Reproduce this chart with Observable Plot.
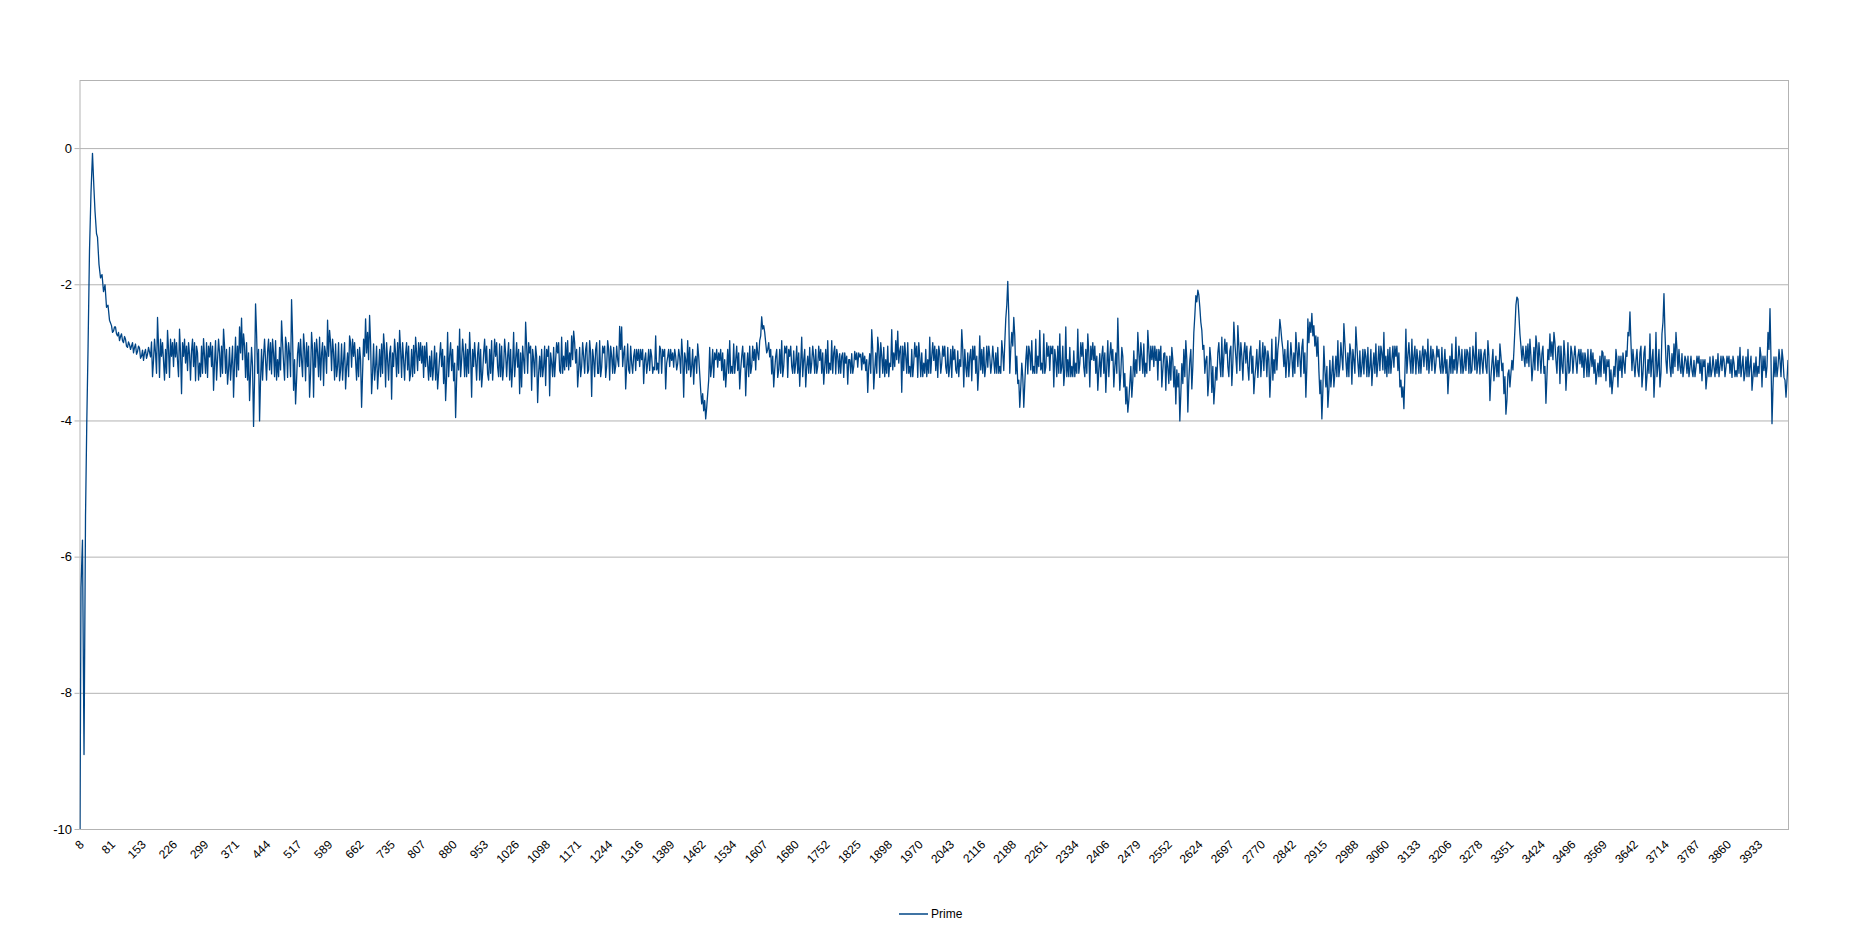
<!DOCTYPE html>
<html>
<head>
<meta charset="utf-8">
<script src="https://cdn.jsdelivr.net/npm/d3@7"></script>
<script src="https://cdn.jsdelivr.net/npm/@observablehq/plot@0.6"></script>
<style>
  body { margin: 0; background: #ffffff; font-family: "Liberation Sans", Arial, sans-serif; }
  #wrap { position: relative; width: 1861px; height: 933px; overflow: hidden; }
  #legend { position: absolute; left: 899px; top: 907px; display: flex; align-items: center; font-size: 12px; color: #000; }
  #legend .swatch { width: 29px; height: 2px; background: #004586; opacity: 0.75; margin-right: 3px; }
</style>
</head>
<body>
<div id="wrap"><div id="legend"><span class="swatch"></span><span>Prime</span></div></div>
<script>
// ---- tick labels ----
const xTickLabels = [8,81,153,226,299,371,444,517,589,662,735,807,880,953,1026,1098,1171,1244,1316,1389,1462,1534,1607,1680,1752,1825,1898,1970,2043,2116,2188,2261,2334,2406,2479,2552,2624,2697,2770,2842,2915,2988,3060,3133,3206,3278,3351,3424,3496,3569,3642,3714,3787,3860,3933];
const yTicks = [0,-2,-4,-6,-8,-10];
const seriesName = "Prime";

// ---- opening part of the series (category positions) ----
const headX = [8,10.3,13.8,17.4,20.9,23.9,26.9,30.2,33.7,37.2,40.7,43.1,46.6,48.9,52.4,56,59.5,63,66.5,70,73.5,77];
const headY = [-10,-6.45,-5.75,-8.9,-5.4,-4.0,-2.9,-1.5,-0.65,-0.07,-0.6,-0.92,-1.25,-1.3,-1.7,-1.9,-1.85,-2.1,-2.0,-2.33,-2.3,-2.52];

// ---- rest of the series: values on evenly spaced categories ----
const tailStart = 81.68;
const tailStep = 4.678;
const tailA = [-2.60,-2.68,-2.62,-2.75,-2.82,-2.72,-2.85,-2.80,-2.92,-2.88,
-2.90,-3.00,-2.87,-2.98,-2.93,-3.05,-3.11,-2.95,-3.02,-2.99,
-2.84,-3.11,-3.00,-2.48,-3.36,-3.05,-3.12,-2.95,-2.67,-3.36,
-3.05,-3.20,-3.06,-3.12,-2.65,-3.60,-3.05,-3.15,-3.26,-3.02,
-2.97,-3.20,-3.41,-3.00,-3.15,-2.90,-2.79,-3.30,-3.36,-3.06,
-3.20,-3.55,-2.82,-3.10,-3.00,-2.90,-2.65,-3.30,-3.46,-2.92,
-3.15,-3.65,-2.77,-2.90,-2.62,-2.49,-2.72,-3.36,-3.40,-3.70,
-2.92,-4.08,-2.28,-3.30,-4.00,-2.95,-3.05,-3.11,-2.98,-3.25,
-3.31,-3.00,-2.82,-3.10,-2.92,-2.53,-3.15,-2.77,-3.36,-3.01,
-2.22,-3.55,-3.75,-3.01,-3.20];
const tailB = [-3.11,-2.72,-3.41,-3.20,-3.65,-2.70,-3.65,-3.21,-3.00,-2.77,
-3.01,-3.48,-3.00,-2.52,-2.67,-3.26,-3.00,-2.87,-3.20,-3.41,
-2.87,-3.10,-3.53,-3.00,-2.75,-3.21,-3.05,-3.11,-2.95,-2.92,
-3.80,-2.80,-2.50,-2.70,-2.45,-3.60,-2.87,-3.20,-3.53,-2.95,
-2.87,-2.72,-3.50,-3.10,-3.01,-3.68,-3.20,-3.01,-2.85,-2.67,
-3.36,-3.10,-3.01,-3.25,-3.41,-2.95,-2.89,-2.77,-3.26,-3.11,
-3.15,-3.36,-3.20,-3.16,-3.05,-2.97,-3.21,-3.40,-3.53,-3.06,
-3.20,-3.45,-3.70,-2.70,-3.05,-3.26,-3.41,-3.95,-2.90,-2.65,
-3.11,-3.00,-2.87,-2.95,-2.70,-3.65,-3.20,-3.11,-3.01,-3.40,
-3.50,-3.01,-3.15,-3.31,-2.95,-2.82,-3.11,-3.05,-3.21,-2.87,
-2.90,-3.21,-3.01,-3.05,-3.40,-3.50,-2.70,-3.10,-3.21,-3.60];
const tailC = [-3.50,-3.10,-2.55,-3.30,-3.00,-3.55,-3.10,-2.90,-3.73,-3.05,
-2.95,-3.20,-3.48,-3.05,-3.63,-3.15,-2.92,-3.10,-3.00,-3.26,
-2.77,-3.05,-2.85,-2.82,-3.00,-2.75,-2.68,-3.15,-3.50,-2.92,
-3.20,-3.05,-2.95,-3.30,-2.82,-3.64,-3.10,-2.95,-3.30,-2.82,
-3.21,-3.00,-3.36,-2.82,-3.40,-3.05,-2.92,-3.20,-3.10,-2.61,
-2.62,-3.00,-3.53,-2.87,-3.30,-3.15,-3.05,-3.26,-3.11,-3.20,
-3.10,-3.45,-3.00,-3.15,-3.26,-3.05,-3.21,-2.75,-3.15,-2.90,
-3.30,-3.05,-3.53,-3.06,-3.20,-3.11,-3.21,-3.05,-3.16,-3.06,
-2.80,-3.65,-3.10,-2.82,-2.92,-3.20,-3.46,-3.05,-2.87,-3.30,
-3.75,-3.85,-3.97,-3.60,-2.92,-3.20,-3.36,-3.10,-3.21,-3.11,
-3.26,-3.40,-3.50,-2.95,-2.82,-3.20,-2.87,-3.10,-3.26,-3.53,
-3.05,-3.21,-3.63,-3.00,-2.90,-3.20,-3.11,-3.25,-3.00,-2.82,
-2.47,-2.60,-2.85,-2.95,-3.06,-3.31,-3.50,-3.05,-3.36,-2.95,
-2.82,-3.20,-3.00,-3.36,-3.05,-3.20,-2.97,-3.15,-3.30,-3.49,
-2.77,-3.10,-3.50,-3.05,-2.92,-3.15,-3.06,-2.95,-3.20,-3.11,
-3.30,-3.46,-2.95,-2.82,-3.15,-2.82,-3.00,-3.31,-3.05,-3.01];
const tailD = [-3.05,-3.36,-3.15,-3.46,-3.10,-3.01,-3.20,-3.10,-3.21,-3.06,
-3.25,-3.16,-3.26,-3.58,-3.01,-2.66,-3.53,-3.00,-2.77,-3.36,
-3.05,-2.92,-3.10,-2.90,-3.15,-2.66,-3.00,-2.82,-2.68,-2.97,
-3.58,-3.26,-3.05,-2.85,-3.20,-2.95,-3.15,-3.06,-3.36,-3.05,
-3.00,-3.15,-2.95,-3.10,-2.77,-3.05,-3.11,-3.26,-3.36,-3.01,
-3.15,-3.05,-3.21,-2.92,-3.20,-3.36,-3.10,-3.25,-2.97,-3.10,
-2.66,-3.50,-3.20,-3.00,-3.06,-3.41,-3.10,-3.30,-3.55,-2.75,
-2.95,-2.92,-3.20,-3.21,-3.05,-3.15,-3.11,-3.00,-2.92,-3.20,
-2.82,-3.26,-2.50,-1.95,-3.30,-2.70,-2.48,-3.31,-3.45,-3.80,
-3.15,-3.80,-3.11,-3.31,-3.00,-2.82,-3.20,-2.80,-3.05,-2.67,
-3.15,-2.72,-3.21,-3.05,-3.26,-3.01,-3.50,-3.10,-2.90,-2.72,
-3.21,-3.48,-2.62,-3.10,-2.92,-3.20,-2.97,-3.15,-2.65,-3.16,
-3.05,-3.21,-2.95,-2.72,-3.50,-3.10,-3.11,-3.30,-3.55,-3.01,
-3.05,-3.30,-3.58,-2.82,-3.05,-3.11,-3.50,-3.00,-2.49,-3.55,
-2.92,-3.50,-3.75,-3.87,-3.45,-3.65,-2.97,-3.10,-2.70,-3.26,
-3.05,-2.87,-3.15,-2.67,-3.26,-3.10,-3.20,-3.11,-3.40,-3.11];
const tailE = [-3.50,-3.01,-3.55,-3.20,-3.05,-2.92,-3.50,-3.75,-3.50,-4.00,
-3.16,-2.95,-2.82,-3.87,-3.11,-3.53,-2.70,-2.16,-2.08,-2.33,
-2.67,-2.89,-3.11,-3.63,-2.92,-3.58,-3.75,-3.21,-3.00,-3.15,
-2.77,-3.05,-3.01,-3.20,-2.97,-3.48,-2.55,-3.06,-2.60,-3.26,
-3.05,-3.01,-3.15,-3.21,-3.00,-3.30,-3.60,-3.20,-3.36,-2.82,
-3.10,-3.26,-3.00,-2.97,-3.65,-2.80,-3.10,-2.77,-2.95,-2.51,
-2.82,-3.20,-3.36,-2.82,-3.15,-3.06,-3.00,-2.70,-3.20,-3.06,
-2.92,-3.30,-3.65,-2.50,-2.55,-2.42,-2.60,-2.75,-2.77,-3.60,
-3.97,-2.90,-3.50,-3.80,-3.11,-3.30,-3.50,-3.05,-2.82,-3.20,
-3.06,-2.57,-3.11,-3.00,-2.87,-3.46,-3.10,-2.62,-3.15,-2.97,
-3.20,-3.31,-3.05,-2.92,-3.21,-3.48,-3.00,-2.87,-3.15,-3.26,
-3.00,-2.70,-3.05,-2.95,-2.92,-3.10,-3.21,-3.05,-3.26,-3.50,
-3.65,-3.82,-2.65,-3.05,-3.11,-2.80,-3.05,-3.31,-3.10,-2.97,
-3.05,-3.20,-3.00,-2.80,-3.11,-3.26,-3.05,-3.15,-3.06,-3.21,
-2.92,-3.20,-3.30,-3.60,-3.05,-2.87,-3.10,-2.77,-3.15,-3.06,
-2.95,-3.21,-3.26,-3.00,-2.92,-3.26,-3.05,-2.70,-3.15,-3.31];
const tailF = [-3.11,-3.01,-3.21,-2.82,-3.70,-3.15,-3.41,-3.05,-3.11,-2.87,
-3.26,-3.60,-3.90,-3.31,-3.50,-3.11,-2.97,-2.30,-2.21,-2.72,
-3.11,-3.06,-2.90,-2.87,-2.80,-3.41,-2.92,-2.75,-3.26,-3.05,
-3.01,-3.30,-3.74,-2.95,-2.72,-2.84,-2.70,-3.11,-2.92,-3.45,
-3.20,-2.82,-3.55,-2.85,-3.26,-3.00,-3.06,-3.11,-3.05,-3.16,
-3.21,-3.36,-3.10,-2.95,-3.15,-3.20,-3.30,-3.46,-3.15,-3.05,
-2.97,-3.30,-3.41,-3.20,-3.50,-3.60,-3.20,-2.95,-3.50,-3.26,
-3.36,-3.15,-2.97,-2.70,-2.40,-3.26,-3.15,-3.11,-3.26,-3.00,
-3.50,-3.00,-3.55,-3.10,-2.72,-3.11,-3.65,-2.70,-3.20,-3.50,
-2.72,-2.13,-3.11,-2.89,-3.20,-3.01,-2.87,-2.70,-3.26,-3.20,
-3.01,-3.21,-3.11,-3.05,-3.21,-3.26,-3.11,-3.21,-3.15,-3.30,
-3.41,-3.20,-3.53,-3.15,-3.06,-3.26,-3.21,-3.10,-3.01,-3.20,
-3.26,-3.10,-3.21,-3.15,-3.30,-3.36,-3.15,-3.26,-3.05,-2.92,
-3.20,-3.41,-3.06,-2.95,-3.20,-3.55,-3.15,-3.06,-3.20,-2.92,
-3.50,-3.26,-3.36,-2.70,-2.35,-4.04,-3.06,-3.06,-3.20,-3.11,
-2.95,-3.36,-3.65,-3.11];

// ---- values on the categories lying between the ones above ----
const midA = [-2.70,-2.62,-2.72,-2.70,-2.76,-2.82,-2.76,-2.90,-2.84,-2.95,
-2.85,-2.92,-3.02,-2.90,-3.08,-2.96,-3.00,-3.08,-2.92,-3.06,
-3.35,-2.80,-3.30,-2.90,-2.80,-2.85,-3.40,-3.30,-2.95,-2.80,
-2.85,-2.80,-2.85,-3.35,-3.00,-2.85,-2.80,-2.90,-2.85,-3.40,
-2.80,-2.85,-2.90,-3.40,-3.35,-3.30,-3.05,-2.85,-2.90,-2.85,
-2.90,-3.15,-3.40,-2.80,-3.35,-3.30,-2.90,-2.95,-3.25,-3.40,
-2.90,-3.15,-3.35,-3.25,-3.00,-3.10,-2.90,-2.85,-3.00,-3.30,
-3.20,-3.40,-2.70,-2.95,-3.40,-3.40,-2.80,-3.40,-2.80,-2.85,
-2.80,-3.35,-3.40,-3.35,-3.25,-2.85,-3.40,-2.90,-2.85,-3.35,
-2.75,-3.10,-3.40,-2.85,-2.80];
const midB = [-3.35,-2.95,-2.85,-2.90,-3.30,-2.95,-2.85,-2.80,-3.35,-3.40,
-2.85,-2.90,-3.30,-3.05,-2.85,-2.80,-3.40,-3.35,-2.85,-3.25,
-3.40,-2.85,-3.20,-3.35,-2.85,-2.80,-2.85,-3.40,-3.35,-3.10,
-3.30,-3.05,-3.00,-3.10,-2.85,-3.30,-3.40,-2.90,-3.25,-3.35,
-3.30,-2.95,-2.85,-3.40,-2.90,-3.00,-2.80,-3.35,-3.30,-2.95,
-2.85,-3.40,-2.85,-2.90,-3.30,-3.35,-3.30,-3.00,-2.85,-2.85,
-2.90,-2.90,-2.85,-3.40,-3.35,-3.40,-2.90,-3.00,-3.30,-2.85,
-2.95,-3.05,-3.35,-3.35,-2.85,-2.95,-3.15,-3.40,-3.25,-3.35,
-2.80,-3.35,-3.35,-3.30,-3.05,-2.95,-2.85,-3.40,-2.85,-2.95,
-3.30,-2.80,-2.90,-3.40,-3.30,-3.40,-2.80,-2.85,-3.35,-3.35,
-3.40,-2.80,-3.35,-2.85,-2.95,-3.20,-3.35,-2.85,-2.95,-3.00];
const midC = [-2.90,-3.30,-2.90,-2.85,-2.90,-2.95,-3.35,-3.05,-3.30,-3.35,
-3.35,-2.90,-2.95,-2.90,-3.00,-3.35,-3.35,-2.85,-2.85,-3.30,
-3.30,-3.25,-3.20,-3.25,-3.20,-3.10,-2.85,-2.95,-3.25,-3.35,
-2.85,-3.30,-2.85,-3.25,-3.00,-2.95,-3.35,-2.85,-3.30,-3.35,
-2.90,-2.90,-3.20,-2.95,-2.90,-3.30,-3.30,-2.90,-3.20,-2.95,
-3.20,-2.90,-3.20,-3.25,-2.90,-3.30,-2.95,-2.95,-2.95,-2.95,
-2.95,-3.10,-3.30,-2.95,-2.95,-3.30,-3.25,-3.25,-3.30,-2.95,
-2.95,-2.95,-3.15,-2.95,-2.95,-3.00,-2.95,-3.25,-2.95,-3.30,
-3.05,-3.00,-3.30,-3.25,-3.35,-2.95,-3.10,-3.30,-3.05,-3.55,
-3.60,-3.70,-3.80,-3.40,-3.35,-2.95,-3.00,-2.95,-3.00,-2.95,
-3.00,-3.10,-3.25,-3.30,-3.30,-3.30,-3.30,-2.90,-3.00,-3.25,
-2.90,-3.00,-3.20,-3.35,-3.30,-2.90,-2.95,-2.85,-3.10,-2.75,
-2.65,-2.70,-3.00,-2.85,-2.95,-3.05,-3.25,-2.95,-3.25,-3.30,
-3.35,-2.90,-2.90,-2.95,-2.90,-3.30,-3.30,-2.90,-3.00,-3.15,
-3.35,-2.95,-3.20,-3.30,-3.30,-2.90,-3.30,-3.30,-2.90,-2.95,
-3.00,-3.20,-3.30,-3.30,-3.25,-3.30,-2.90,-2.95,-3.30,-3.30];
const midD = [-3.00,-3.00,-3.05,-3.10,-3.30,-3.30,-2.98,-3.00,-3.00,-3.02,
-3.00,-3.05,-3.10,-3.20,-3.30,-2.95,-3.25,-3.30,-2.95,-2.85,
-3.30,-3.35,-3.30,-3.35,-3.20,-3.25,-3.20,-3.10,-3.15,-2.90,
-2.90,-2.85,-3.30,-3.30,-3.35,-3.35,-2.85,-2.90,-2.85,-3.35,
-3.35,-3.30,-3.35,-3.30,-3.30,-2.85,-2.90,-2.95,-2.90,-3.30,
-2.90,-2.90,-3.30,-3.35,-2.95,-2.90,-2.95,-3.30,-3.35,-3.20,
-2.95,-2.95,-3.35,-3.35,-2.95,-2.90,-2.90,-3.05,-3.25,-3.25,
-3.30,-3.35,-2.90,-2.90,-3.30,-2.90,-3.30,-3.30,-3.30,-3.30,
-3.00,-2.85,-2.30,-2.45,-2.95,-2.90,-2.75,-3.05,-3.40,-3.50,
-3.35,-3.45,-2.90,-2.90,-3.25,-3.30,-3.30,-3.30,-3.20,-3.25,
-3.30,-3.30,-2.85,-2.90,-2.90,-2.90,-2.95,-3.35,-3.30,-3.30,
-2.90,-3.25,-3.35,-3.35,-3.35,-3.35,-3.35,-3.30,-3.30,-2.85,
-2.85,-3.35,-3.30,-3.00,-2.90,-2.85,-2.90,-3.05,-3.25,-3.35,
-2.90,-3.00,-3.20,-3.35,-2.85,-2.95,-3.20,-3.30,-3.05,-3.30,
-3.05,-3.30,-3.50,-3.70,-3.20,-3.40,-3.35,-3.30,-3.00,-2.85,
-3.30,-3.35,-3.30,-2.95,-2.90,-2.90,-2.90,-2.95,-2.95,-2.90];
const midE = [-3.25,-3.00,-3.05,-3.45,-3.40,-3.10,-3.20,-3.25,-3.30,-3.60,
-3.45,-3.35,-3.10,-3.40,-2.95,-3.20,-2.45,-2.25,-2.15,-2.55,
-2.95,-3.30,-3.05,-3.40,-3.10,-3.20,-3.50,-3.40,-2.85,-3.35,
-3.35,-2.80,-2.85,-3.35,-2.90,-3.15,-2.85,-3.30,-2.90,-2.85,
-3.40,-2.85,-2.90,-3.40,-2.90,-3.05,-3.35,-2.95,-3.10,-3.35,
-2.85,-2.90,-3.35,-3.10,-3.30,-3.40,-3.30,-3.25,-2.80,-2.65,
-2.95,-2.95,-3.10,-3.35,-2.85,-3.35,-3.30,-2.95,-2.85,-3.35,
-2.80,-3.00,-3.20,-2.85,-2.70,-2.75,-2.90,-3.05,-3.25,-3.40,
-3.55,-3.25,-3.20,-3.55,-3.50,-3.05,-3.30,-3.35,-3.35,-2.85,
-3.25,-2.85,-3.35,-3.35,-3.00,-2.95,-3.30,-2.90,-3.35,-3.35,
-2.95,-2.95,-3.35,-3.35,-2.95,-3.20,-3.30,-3.35,-2.90,-2.90,
-3.25,-3.30,-3.35,-3.30,-3.30,-2.90,-2.90,-2.90,-3.00,-3.40,
-3.50,-3.30,-3.30,-2.85,-3.30,-3.30,-2.90,-2.95,-3.30,-3.30,
-2.90,-2.95,-3.25,-3.30,-2.90,-2.95,-3.30,-2.90,-2.95,-3.30,
-3.30,-2.95,-3.10,-3.30,-3.30,-3.30,-3.25,-3.30,-2.90,-3.30,
-3.30,-2.95,-2.95,-3.30,-3.30,-2.90,-3.25,-3.30,-2.95,-2.95];
const midF = [-3.30,-2.95,-3.30,-3.05,-3.35,-2.95,-3.20,-3.35,-3.35,-3.05,
-3.15,-3.35,-3.70,-3.25,-3.30,-3.25,-2.65,-2.18,-2.45,-2.90,
-2.90,-3.20,-3.15,-3.20,-3.05,-3.20,-3.25,-2.90,-2.85,-3.30,
-2.90,-3.20,-3.35,-3.10,-3.05,-3.10,-2.85,-3.30,-2.90,-2.90,
-3.30,-3.05,-3.25,-3.30,-2.90,-3.30,-2.90,-3.30,-2.95,-2.95,
-3.00,-3.00,-3.35,-3.35,-2.95,-3.00,-3.10,-3.30,-3.35,-3.35,
-3.00,-3.05,-3.10,-3.10,-3.25,-3.40,-3.35,-3.10,-3.05,-3.05,
-3.00,-3.30,-3.05,-2.75,-2.85,-2.95,-3.35,-2.95,-3.35,-2.90,
-3.30,-2.90,-3.35,-3.30,-3.35,-2.95,-3.30,-3.35,-2.95,-3.30,
-2.55,-2.70,-3.30,-2.90,-3.35,-3.30,-3.20,-2.95,-2.95,-3.30,
-3.35,-3.05,-3.30,-3.35,-3.05,-3.35,-3.35,-3.05,-3.05,-3.10,
-3.10,-3.10,-3.35,-3.35,-3.35,-3.05,-3.35,-3.30,-3.35,-3.05,
-3.05,-3.35,-3.05,-3.05,-3.10,-3.05,-3.35,-3.35,-3.30,-3.35,
-3.05,-3.30,-3.35,-3.35,-3.05,-3.35,-3.35,-3.35,-3.30,-3.05,
-3.05,-3.05,-3.20,-2.95,-3.10,-3.50,-3.35,-3.35,-2.95,-3.35,
-3.10,-3.40,-3.40];

const tailY = [...tailA, ...tailB, ...tailC, ...tailD, ...tailE, ...tailF];
const midY = [...midA, ...midB, ...midC, ...midD, ...midE, ...midF];

const data = headX.map((x, i) => ({x, y: headY[i], s: seriesName}));
tailY.forEach((y, i) => {
  const x = tailStart + i * tailStep;
  data.push({x, y, s: seriesName});
  if (i < midY.length) data.push({x: x + tailStep / 2, y: midY[i], s: seriesName});
});

const W = 1861, H = 895;
const chart = Plot.plot({
  width: W,
  height: H,
  marginLeft: 79.5,
  marginRight: W - 1788,
  marginTop: 80,
  marginBottom: H - 829,
  style: {fontFamily: "'Liberation Sans', Arial, sans-serif", color: "#000", background: "#fff", overflow: "visible"},
  x: {type: "linear", domain: [8, 4003]},
  y: {domain: [-10, 1]},
  marks: [
    Plot.gridY(yTicks, {stroke: "#b3b3b3", strokeOpacity: 1, strokeWidth: 1}),
    Plot.frame({stroke: "#b3b3b3", strokeWidth: 1}),
    Plot.axisY(yTicks, {label: null, tickSize: 5, tickPadding: 3, stroke: "#b3b3b3", fontSize: 13, fill: "#000", tickFormat: d => String(d)}),
    Plot.axisX(xTickLabels, {label: null, tickSize: 0, tickPadding: 13, dx: 2, tickRotate: -45, fontSize: 12, fill: "#000", tickFormat: d => String(d)}),
    Plot.line(data, {x: "x", y: "y", stroke: "#004586", strokeWidth: 1.3, clip: true})
  ]
});
document.getElementById("wrap").prepend(chart);
</script>
</body>
</html>
